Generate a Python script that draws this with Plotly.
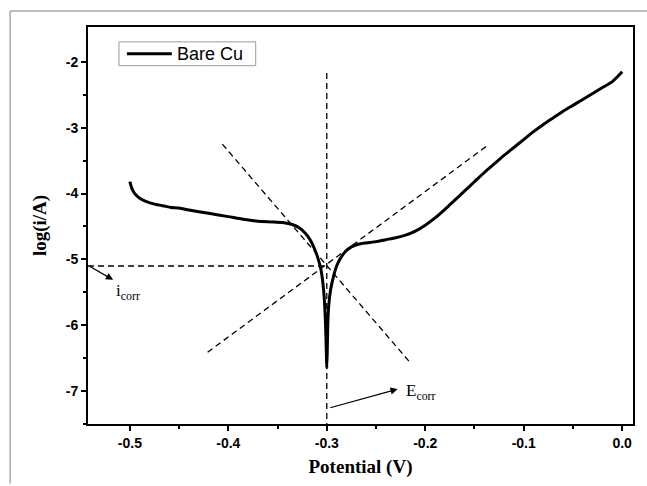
import plotly.graph_objects as go

# Polarization curve (Bare Cu)
potential = [-0.500, -0.498, -0.495, -0.490, -0.485, -0.475, -0.465, -0.458, -0.450, -0.440,
             -0.420, -0.400, -0.385, -0.370, -0.355, -0.345, -0.335, -0.328, -0.322, -0.317,
             -0.313, -0.309, -0.306, -0.304, -0.3025, -0.3015, -0.3008, -0.3003, -0.3000,
             -0.2995, -0.2990, -0.298, -0.296, -0.293, -0.290, -0.286, -0.281, -0.275, -0.268,
             -0.260, -0.250, -0.240, -0.230, -0.220, -0.210, -0.200, -0.190, -0.180, -0.170,
             -0.160, -0.150, -0.140, -0.130, -0.120, -0.110, -0.100, -0.090, -0.080, -0.070,
             -0.060, -0.050, -0.040, -0.030, -0.020, -0.010, 0.000]
log_i = [-3.82, -3.92, -4.00, -4.07, -4.11, -4.16, -4.19, -4.21, -4.22, -4.25,
         -4.30, -4.35, -4.39, -4.42, -4.43, -4.44, -4.47, -4.52, -4.60, -4.70,
         -4.82, -4.98, -5.15, -5.35, -5.60, -5.90, -6.20, -6.50, -6.65,
         -6.40, -6.00, -5.70, -5.45, -5.25, -5.10, -4.98, -4.88, -4.81, -4.77,
         -4.75, -4.73, -4.70, -4.67, -4.63, -4.57, -4.48, -4.37, -4.24, -4.10,
         -3.96, -3.82, -3.68, -3.55, -3.42, -3.30, -3.18, -3.06, -2.95, -2.85,
         -2.75, -2.66, -2.57, -2.48, -2.39, -2.30, -2.15]
series_name = "Bare Cu"

# Tafel construction lines
ecorr_x = [-0.3, -0.3]
ecorr_y = [-2.17, -7.5]
icorr_x = [-0.5425, -0.3]
icorr_y = [-5.1, -5.1]
cath_x = [-0.406, -0.214]
cath_y = [-3.25, -6.59]
anod_x = [-0.421, -0.135]
anod_y = [-6.41, -3.25]

x_ticks = [-0.5, -0.4, -0.3, -0.2, -0.1, 0.0]
x_ticktext = ["-0.5", "-0.4", "-0.3", "-0.2", "-0.1", "0.0"]
x_minor = [-0.45, -0.35, -0.25, -0.15, -0.05]
y_ticks = [-7, -6, -5, -4, -3, -2]
y_ticktext = ["-7", "-6", "-5", "-4", "-3", "-2"]
y_minor = [-7.5, -6.5, -5.5, -4.5, -3.5, -2.5]

fig = go.Figure()
dash_style = dict(color="black", width=1.3, dash="6px,4px")
for xs, ys in [(ecorr_x, ecorr_y), (icorr_x, icorr_y), (cath_x, cath_y), (anod_x, anod_y)]:
    fig.add_trace(go.Scatter(x=xs, y=ys, mode="lines", line=dash_style,
                             showlegend=False, hoverinfo="skip", cliponaxis=False))

fig.add_trace(go.Scatter(x=potential, y=log_i, mode="lines", name=series_name, showlegend=False,
                         line=dict(color="black", width=3, shape="spline", smoothing=0.6)))

serif = "Liberation Serif, Times New Roman, serif"
sans = "Liberation Sans, Arial, sans-serif"

# arrows
fig.add_annotation(x=-0.517, y=-5.31, ax=-0.5425, ay=-5.09, xref="x", yref="y",
                   axref="x", ayref="y", text="", showarrow=True, arrowhead=2,
                   arrowsize=1.2, arrowwidth=1.2, arrowcolor="black")
fig.add_annotation(x=-0.228, y=-6.97, ax=-0.298, ay=-7.26, xref="x", yref="y",
                   axref="x", ayref="y", text="", showarrow=True, arrowhead=2,
                   arrowsize=1.2, arrowwidth=1.2, arrowcolor="black")
fig.add_annotation(x=-0.516, y=-5.3, xref="x", yref="y", xanchor="left", yanchor="top",
                   text="i<sub>corr</sub>", showarrow=False,
                   font=dict(family=serif, size=17, color="black"))
fig.add_annotation(x=-0.222, y=-6.82, xref="x", yref="y", xanchor="left", yanchor="top",
                   text="E<sub>corr</sub>", showarrow=False,
                   font=dict(family=serif, size=17, color="black"))

# legend box (drawn)
fig.add_shape(type="rect", xref="paper", yref="paper", x0=0.0568, x1=0.3077, y0=0.9025, y1=0.9625,
              line=dict(color="#9a9a9a", width=1), fillcolor="white")
fig.add_shape(type="line", xref="paper", yref="paper", x0=0.0714, x1=0.1538, y0=0.9325, y1=0.9325,
              line=dict(color="black", width=3))
fig.add_annotation(x=0.159, y=0.9325, xref="paper", yref="paper", xanchor="left", yanchor="middle",
                   text=series_name, showarrow=False,
                   font=dict(family=sans, size=18, color="black"))

# outer gray frame
fig.add_shape(type="line", xref="paper", yref="paper", x0=-0.1429, x1=1.03, y0=1.04, y1=1.04,
              line=dict(color="#a8a8a8", width=1.5))
fig.add_shape(type="line", xref="paper", yref="paper", x0=-0.1429, x1=-0.1429, y0=1.04, y1=-0.15,
              line=dict(color="#a8a8a8", width=1.5))

fig.update_layout(
    width=647, height=486,
    margin=dict(l=88, r=13, t=27, b=59),
    paper_bgcolor="white", plot_bgcolor="white",
    showlegend=False,
    xaxis=dict(range=[-0.5425, 0.011], tickmode="array", tickvals=x_ticks, ticktext=x_ticktext,
               ticks="outside", ticklen=5, tickwidth=1.5, tickcolor="black",
               minor=dict(tickmode="array", tickvals=x_minor, ticks="outside", ticklen=3,
                          tickwidth=1.5, tickcolor="black", showgrid=False),
               showline=True, linecolor="black", linewidth=1.8, mirror=True,
               showgrid=False, zeroline=False,
               tickfont=dict(family=sans, size=14, color="black", weight="bold"),
               title=dict(text="<b>Potential (V)</b>", standoff=10,
                          font=dict(family=serif, size=19, color="black"))),
    yaxis=dict(range=[-7.5, -1.47], tickmode="array", tickvals=y_ticks, ticktext=y_ticktext,
               ticks="outside", ticklen=5, tickwidth=1.5, tickcolor="black",
               minor=dict(tickmode="array", tickvals=y_minor, ticks="outside", ticklen=3,
                          tickwidth=1.5, tickcolor="black", showgrid=False),
               showline=True, linecolor="black", linewidth=1.8, mirror=True,
               showgrid=False, zeroline=False,
               tickfont=dict(family=sans, size=14, color="black", weight="bold"),
               title=dict(text="<b>log(i/A)</b>", standoff=14,
                          font=dict(family=serif, size=19, color="black"))),
)

fig.write_html("out.html", config={"displayModeBar": False},
               post_script="document.body.style.margin='0px';")
